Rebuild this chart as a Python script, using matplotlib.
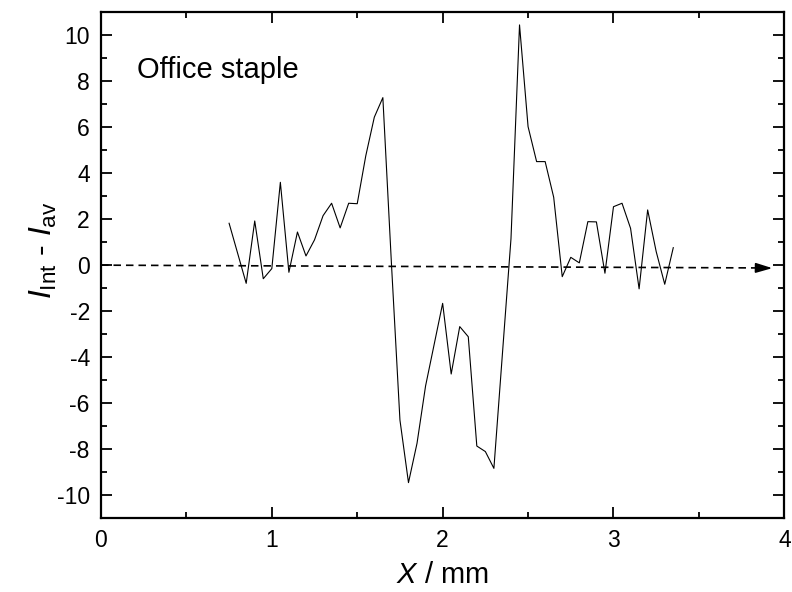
import matplotlib
matplotlib.use("Agg")
import matplotlib.pyplot as plt
from matplotlib.ticker import MultipleLocator

plt.rcParams['font.family'] = ['Liberation Sans', 'DejaVu Sans']
plt.rcParams['mathtext.fontset'] = 'custom'
plt.rcParams['mathtext.rm'] = 'Liberation Sans'
plt.rcParams['mathtext.it'] = 'Liberation Sans:italic'

# Data (X in mm, I_Int - I_av)
x_mm = [0.75, 0.85, 0.90, 0.95, 1.00, 1.05, 1.10, 1.15, 1.20, 1.25, 1.30, 1.35, 1.40,
        1.45, 1.50, 1.55, 1.60, 1.65, 1.70, 1.75, 1.80, 1.85, 1.90, 2.00, 2.05, 2.10,
        2.15, 2.20, 2.25, 2.30, 2.40, 2.45, 2.50, 2.55, 2.60, 2.65, 2.70, 2.75, 2.80,
        2.85, 2.90, 2.95, 3.00, 3.05, 3.10, 3.15, 3.20, 3.25, 3.30, 3.35]
dI = [1.82, -0.79, 1.92, -0.59, -0.15, 3.60, -0.31, 1.44, 0.40, 1.10, 2.15, 2.69, 1.62,
      2.69, 2.67, 4.75, 6.43, 7.28, 0.10, -6.73, -9.45, -7.74, -5.25, -1.66, -4.73, -2.67,
      -3.11, -7.86, -8.10, -8.83, 1.15, 10.44, 6.02, 4.50, 4.50, 2.95, -0.50, 0.34, 0.10,
      1.89, 1.88, -0.35, 2.54, 2.69, 1.60, -1.03, 2.40, 0.59, -0.83, 0.76]

# Reference (dashed) axis line
ref_x = [0.0, 3.84]
ref_y = [0.0, -0.12]
arrow_tip = (3.93, -0.13)

fig = plt.figure(figsize=(7.92, 5.92), dpi=100)
ax = fig.add_axes([0.1275, 0.1245, 0.8628, 0.8552])

ax.plot(x_mm, dI, color='black', lw=0.8)
ax.plot(ref_x, ref_y, color='black', lw=1.2, linestyle=(0, (4.5, 3)))
ax.annotate('', xy=arrow_tip, xytext=(ref_x[1], ref_y[1]),
            arrowprops=dict(arrowstyle='-|>,head_length=1.0,head_width=0.3',
                            color='black', lw=1.2, shrinkA=0, shrinkB=0))

ax.set_xlim(0, 4)
ax.set_ylim(-11, 11)
ax.xaxis.set_major_locator(MultipleLocator(1))
ax.xaxis.set_minor_locator(MultipleLocator(0.5))
ax.yaxis.set_major_locator(MultipleLocator(2))
ax.yaxis.set_minor_locator(MultipleLocator(1))
ax.tick_params(which='both', direction='in', top=True, right=True, labelsize=16.5, width=1.3)
ax.tick_params(which='major', length=8, pad=8)
ax.tick_params(which='minor', length=4.5)
for s in ax.spines.values():
    s.set_linewidth(1.6)

ax.set_yticks(range(-10, 11, 2))
ax.set_yticklabels([str(v) for v in range(-10, 11, 2)])

ax.set_xlabel(r'$\mathit{X}$ / mm', fontsize=21, labelpad=6)
ax.set_ylabel(r'$\mathit{I}_{\mathrm{Int}}$ - $\mathit{I}_{\mathrm{av}}$', fontsize=23)
ax.yaxis.set_label_coords(-0.062, 0.53)

ax.text(0.053, 0.885, 'Office staple', transform=ax.transAxes, fontsize=21,
        ha='left', va='center')

fig.savefig('out.png', dpi=100)
